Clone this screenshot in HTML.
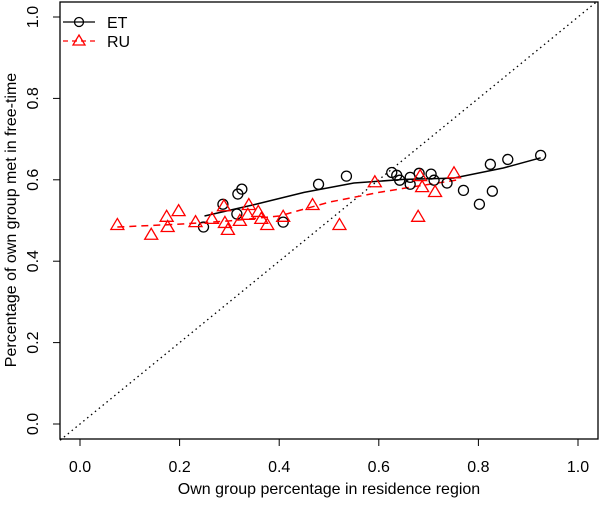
<!DOCTYPE html>
<html><head><meta charset="utf-8"><style>
body{margin:0;background:#fff}
svg text{font-family:"Liberation Sans",Arial,sans-serif;font-size:16px}
</style></head><body>
<svg id="chart" width="600" height="500" xmlns="http://www.w3.org/2000/svg">
<rect x="60" y="2" width="538" height="437" fill="none" stroke="#000" stroke-width="1.3"/>
<g id="axes"></g>
<g id="marks"></g>
<text x="329" y="494" text-anchor="middle">Own group percentage in residence region</text>
<text transform="translate(16,220) rotate(-90)" text-anchor="middle">Percentage of own group met in free-time</text>
<g>
<line x1="63" y1="22" x2="95" y2="22" stroke="#000" stroke-width="1.3"/>
<circle cx="79" cy="22" r="4.5" fill="none" stroke="#000" stroke-width="1.3"/>
<text x="107" y="28">ET</text>
<line x1="63" y1="41" x2="95" y2="41" stroke="red" stroke-width="1.3" stroke-dasharray="5,4"/>
<polygon points="79,35 85,45 73,45" fill="none" stroke="red" stroke-width="1.3"/>
<text x="107" y="47">RU</text>
</g>
</svg>
<script>
const xTicks=[0,0.2,0.4,0.6,0.8,1.0];
const yTicks=[0,0.2,0.4,0.6,0.8,1.0];
const etX=[.325,.317,.287,.315,.408,.248,.479,.535,.626,.636,.642,.663,.663,.681,.705,.711,.737,.770,.802,.828,.824,.859,.925];
const etY=[.577,.565,.540,.516,.496,.484,.589,.609,.618,.611,.599,.606,.589,.616,.614,.599,.592,.574,.540,.572,.638,.650,.660];
const ruX=[.075,.143,.174,.176,.198,.232,.265,.289,.291,.297,.321,.339,.337,.358,.364,.376,.408,.467,.521,.592,.683,.687,.713,.751,.679];
const ruY=[.489,.465,.509,.484,.523,.496,.504,.535,.494,.477,.499,.538,.514,.521,.504,.489,.509,.538,.489,.594,.609,.582,.570,.616,.509];
const etSmX=[.25,.35,.45,.55,.65,.75,.85,.925];
const etSmY=[.511,.539,.569,.592,.601,.604,.629,.654];
const ruSmX=[.075,.2,.3,.4,.5,.6,.665,.765];
const ruSmY=[.484,.491,.499,.511,.545,.569,.582,.601];
const sx=v=>80+v*498, sy=v=>424-v*407;
const NS="http://www.w3.org/2000/svg";
const ax=document.getElementById('axes'), mk=document.getElementById('marks');
function mkEl(t,a,p){const e=document.createElementNS(NS,t);for(const k in a)e.setAttribute(k,a[k]);p.appendChild(e);return e;}
xTicks.forEach(v=>{
 const l=mkEl('line',{x1:sx(v),x2:sx(v),y1:439,y2:446,stroke:'#000'},ax);
 
 
 const t=mkEl('text',{x:sx(v),y:472,'text-anchor':'middle'},ax);t.textContent=v.toFixed(1);
 
 
});
yTicks.forEach(v=>{
 const l=mkEl('line',{x1:53,x2:60,y1:sy(v),y2:sy(v),stroke:'#000'},ax);
 
 
 const t=mkEl('text',{transform:`translate(38,${sy(v)}) rotate(-90)`,'text-anchor':'middle'},ax);t.textContent=v.toFixed(1);
 
 
});
const diag=mkEl('line',{x1:sx(-0.04),y1:sy(-0.04),x2:sx(1.04),y2:sy(1.04),stroke:'#000','stroke-width':1.3,'stroke-dasharray':'1.5,3.5'},mk);


const etL=mkEl('polyline',{points:etSmX.map((x,i)=>sx(x)+','+sy(etSmY[i])).join(' '),fill:'none',stroke:'#000','stroke-width':1.5},mk);


const ruL=mkEl('polyline',{points:ruSmX.map((x,i)=>sx(x)+','+sy(ruSmY[i])).join(' '),fill:'none',stroke:'red','stroke-width':1.5,'stroke-dasharray':'7,5'},mk);


etX.forEach((x,i)=>{
 const c=mkEl('circle',{cx:sx(x),cy:sy(etY[i]),r:5,fill:'none',stroke:'#000','stroke-width':1.3},mk);
 
 
});
ruX.forEach((x,i)=>{
 const X=sx(x),Y=sy(ruY[i]);
 const p=mkEl('polygon',{points:`${X},${Y-6.5} ${X+6.5},${Y+4.5} ${X-6.5},${Y+4.5}`,fill:'none',stroke:'red','stroke-width':1.3},mk);
 
 
});
</script>
</body></html>
